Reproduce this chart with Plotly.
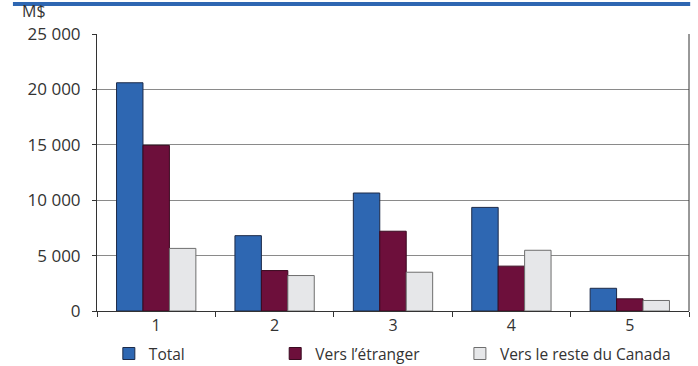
import plotly.graph_objects as go

categories = ["1", "2", "3", "4", "5"]
total = [20600, 6800, 10650, 9350, 2050]
etranger = [14950, 3650, 7200, 4050, 1100]
reste_canada = [5650, 3200, 3500, 5480, 950]

y_tickvals = [0, 5000, 10000, 15000, 20000, 25000]
y_ticktext = ["0", "5 000", "10 000", "15 000", "20 000", "25 000"]

FONT = "'Open Sans', Lato, sans-serif"
TXT = "#333333"

fig = go.Figure()
fig.add_bar(x=categories, y=total, name="Total",
            marker=dict(color="#2e67b2", line=dict(color="#1c2a48", width=1)),
            legend="legend")
fig.add_bar(x=categories, y=etranger, name="Vers l\u2019étranger",
            marker=dict(color="#6d0f3b", line=dict(color="#3a0a20", width=1)),
            legend="legend2")
fig.add_bar(x=categories, y=reste_canada, name="Vers le reste du Canada",
            marker=dict(color="#e6e7e9", line=dict(color="#6e6e6e", width=1)),
            legend="legend3")

legend_common = dict(orientation="h", yanchor="middle", xanchor="left",
                     font=dict(family=FONT, size=15.5, color=TXT),
                     bgcolor="rgba(0,0,0,0)", itemwidth=30)

fig.update_layout(
    width=698, height=366,
    margin=dict(l=97, r=9, t=34, b=55, autoexpand=False),
    paper_bgcolor="white", plot_bgcolor="white",
    barmode="group", bargap=0.33, bargroupgap=0,
    font=dict(family=FONT, size=16, color=TXT),
    showlegend=True,
    legend=dict(x=0.02, y=-0.155, **legend_common),
    legend2=dict(x=0.301, y=-0.155, **legend_common),
    legend3=dict(x=0.613, y=-0.155, **legend_common),
    xaxis=dict(type="category", tickson="boundaries", ticks="outside",
               ticklen=5, tickcolor="#333333", showline=True,
               linecolor="#333333", linewidth=1, mirror=False,
               tickfont=dict(family=FONT, size=16, color=TXT)),
    yaxis=dict(range=[0, 25000], tickvals=y_tickvals, ticktext=y_ticktext,
               ticks="outside", ticklen=4, tickcolor="#333333",
               ticklabelstandoff=8,
               showline=True, linecolor="#333333", linewidth=1,
               showgrid=True, gridcolor="#8a8a8a", gridwidth=1,
               zeroline=False,
               tickfont=dict(family=FONT, size=17, color=TXT)),
    shapes=[
        # right border of the plot area
        dict(type="line", xref="paper", yref="paper", x0=1, x1=1, y0=0, y1=1,
             line=dict(color="#333333", width=1)),
        # blue banner rule across the top
        dict(type="line", xref="paper", yref="paper", x0=-0.142, x1=1.002,
             y0=1.108, y1=1.108, line=dict(color="#2e67b2", width=4)),
    ],
    annotations=[
        dict(text="M$", xref="paper", yref="paper", x=-0.128, y=1.04,
             xanchor="left", yanchor="bottom", showarrow=False, borderpad=0,
             font=dict(family=FONT, size=16, color=TXT)),
    ],
)

fig.write_html("out.html")
